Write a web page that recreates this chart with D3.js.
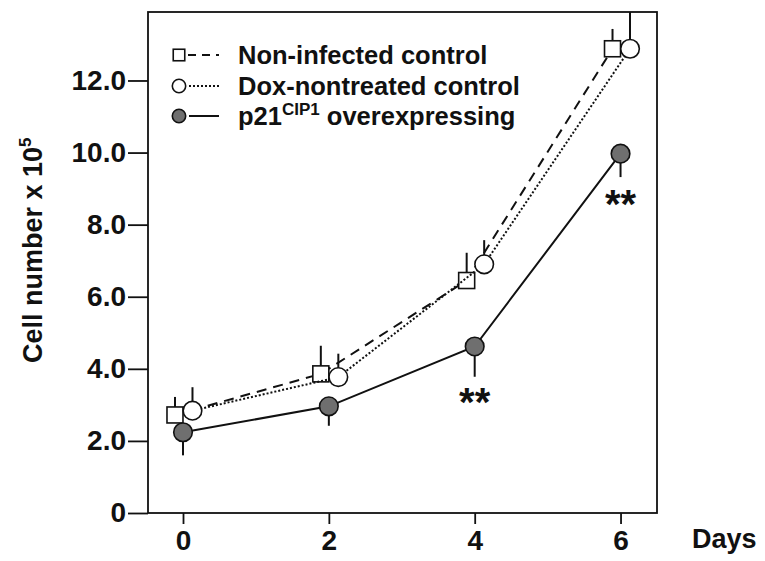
<!DOCTYPE html>
<html>
<head>
<meta charset="utf-8">
<script src="https://cdn.jsdelivr.net/npm/d3@7"></script>
<style>
  body { margin: 0; background: #fff; }
  svg text { font-family: "Liberation Sans", Arial, sans-serif; font-weight: bold; fill: #111; }
</style>
</head>
<body>
<div id="chart"></div>
<script>
const days = [0, 2, 4, 6];
const nonInfected = [2.72, 3.86, 6.45, 12.88];
const nonInfectedErr = [0.5, 0.78, 0.77, 0.55];
const doxControl = [2.84, 3.77, 6.9, 12.88];
const doxControlErr = [0.65, 0.65, 0.67, 1.3];
const p21 = [2.24, 2.96, 4.62, 9.97];
const p21Err = [0.64, 0.54, 0.84, 0.65];
const yTicks = [0, 2, 4, 6, 8, 10, 12];
const starDays = [4, 6];
const starValues = [3.25, 8.75];

const WIDTH = 765, HEIGHT = 561;
const margin = { top: 12, left: 148, right: 108, bottom: 48 };
const width = WIDTH - margin.left - margin.right,
    height = HEIGHT - margin.top - margin.bottom;

const svg = d3.select("#chart").append("svg")
    .attr("width", WIDTH)
    .attr("height", HEIGHT);

const g = svg.append("g")
    .attr("transform", `translate(${margin.left}, ${margin.top})`);

const x = d3.scaleLinear().domain([-0.48, 6.5]).range([0, width]);
const y = d3.scaleLinear().domain([0, 13.9]).range([height, 0]);

// axes
const yAxis = g.append("g")
    .call(d3.axisLeft(y).tickValues(yTicks).tickSize(20).tickPadding(2)
        .tickFormat(d => d === 0 ? "0" : d3.format(".1f")(d)));
const xAxis = g.append("g")
    .attr("transform", `translate(0, ${height})`)
    .call(d3.axisBottom(x).tickValues(days).tickSize(11).tickPadding(6)
        .tickFormat(d3.format("d")));

[xAxis, yAxis].forEach(a => {
    a.select(".domain").remove();
    a.selectAll("line").attr("stroke", "#111").attr("stroke-width", 1.8);
    a.selectAll("text").attr("font-size", 28).attr("fill", "#111");
});

g.append("rect")
    .attr("width", width).attr("height", height)
    .attr("fill", "none").attr("stroke", "#111").attr("stroke-width", 1.8);

// axis titles
svg.append("text")
    .attr("transform", "translate(42, 363) rotate(-90)")
    .attr("font-size", 27)
    .text("Cell number x 10")
    .append("tspan").attr("font-size", 17).attr("dy", -11).text("5");

svg.append("text")
    .attr("x", 692).attr("y", 548)
    .attr("font-size", 27)
    .text("Days");

// series
const series = [
    { name: "Non-infected control", values: nonInfected, err: nonInfectedErr, dir: -1, shift: -0.11, dash: "10,7", sym: "square" },
    { name: "Dox-nontreated control", values: doxControl, err: doxControlErr, dir: -1, shift: 0.13, dash: "2,2", sym: "open" },
    { name: "p21", values: p21, err: p21Err, dir: 1, shift: 0, dash: null, sym: "filled" }
];

svg.append("clipPath").attr("id", "plot-clip")
    .append("rect").attr("width", width).attr("height", height);

const line = d3.line();

series.forEach(s => {
    const pts = days.map((d, i) => [x(d + s.shift), y(s.values[i])]);
    const sg = g.append("g").attr("clip-path", "url(#plot-clip)");

    sg.append("path")
        .attr("d", line(pts))
        .attr("fill", "none")
        .attr("stroke", "#111")
        .attr("stroke-width", 2)
        .attr("stroke-dasharray", s.dash);

    // one-sided error bars
    sg.selectAll(".err")
        .data(days)
        .join("line")
        .attr("x1", (d, i) => x(d + s.shift))
        .attr("x2", (d, i) => x(d + s.shift))
        .attr("y1", (d, i) => y(s.values[i]))
        .attr("y2", (d, i) => y(s.values[i] - s.dir * s.err[i]))
        .attr("stroke", "#111")
        .attr("stroke-width", 2);

    drawMarkers(sg, pts, s.sym, 1);
});

function drawMarkers(sel, pts, sym, scale) {
    if (sym === "square") {
        const side = 16 * scale;
        sel.selectAll(null).data(pts).join("rect")
            .attr("x", p => p[0] - side / 2)
            .attr("y", p => p[1] - side / 2)
            .attr("width", side).attr("height", side)
            .attr("fill", "#fff").attr("stroke", "#111").attr("stroke-width", 1.6);
    } else {
        sel.selectAll(null).data(pts).join("circle")
            .attr("cx", p => p[0]).attr("cy", p => p[1])
            .attr("r", 9.3 * scale)
            .attr("fill", sym === "filled" ? "#6f6f6f" : "#fff")
            .attr("stroke", "#111").attr("stroke-width", 1.6);
    }
}

// significance stars
g.selectAll(".star")
    .data(starDays)
    .join("text")
    .attr("x", d => x(d))
    .attr("y", (d, i) => y(starValues[i]) + 20)
    .attr("text-anchor", "middle")
    .attr("font-size", 40)
    .text("**");

// legend
const legend = svg.append("g").attr("transform", "translate(179, 0)");
const legendY = [55, 86, 116];
series.forEach((s, i) => {
    const row = legend.append("g").attr("transform", `translate(0, ${legendY[i]})`);
    row.append("line")
        .attr("x1", s.sym === "square" ? 9 : 10).attr("x2", 40)
        .attr("stroke", "#111").attr("stroke-width", 2)
        .attr("stroke-dasharray", s.sym === "square" ? "8,6" : s.dash);
    drawMarkers(row, [[0, 0]], s.sym, 0.72);
    const t = row.append("text").attr("x", 59).attr("y", 9).attr("font-size", 25.5);
    if (s.sym === "filled") {
        t.append("tspan").text("p21");
        t.append("tspan").attr("font-size", 17).attr("dy", -10).text("CIP1");
        t.append("tspan").attr("dy", 10).text(" overexpressing");
    } else {
        t.text(s.name);
    }
});
</script>
</body>
</html>
